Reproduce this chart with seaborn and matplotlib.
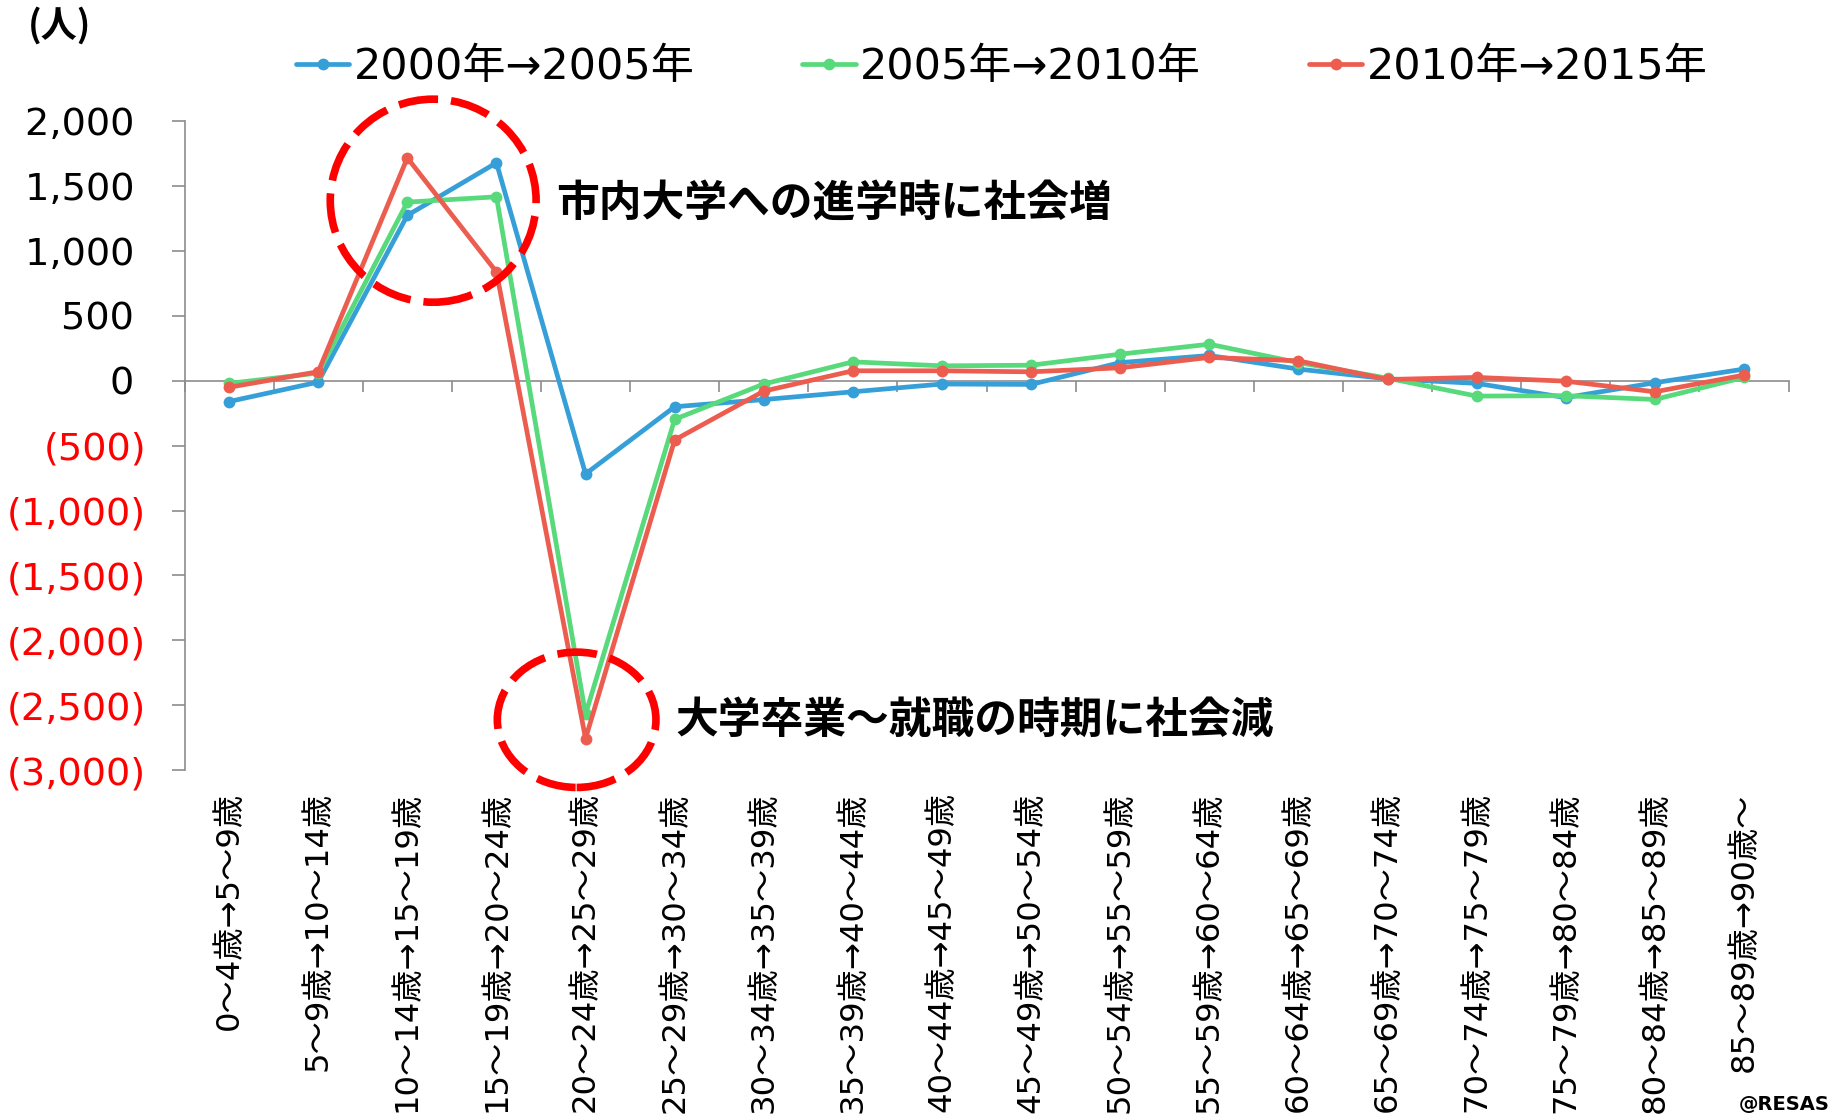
import numpy as np
import pandas as pd
import matplotlib
matplotlib.use("Agg")
import matplotlib.pyplot as plt
from matplotlib.patches import Ellipse
import seaborn as sns

categories = [
    "0～4歳→5～9歳", "5～9歳→10～14歳", "10～14歳→15～19歳", "15～19歳→20～24歳",
    "20～24歳→25～29歳", "25～29歳→30～34歳", "30～34歳→35～39歳", "35～39歳→40～44歳",
    "40～44歳→45～49歳", "45～49歳→50～54歳", "50～54歳→55～59歳", "55～59歳→60～64歳",
    "60～64歳→65～69歳", "65～69歳→70～74歳", "70～74歳→75～79歳", "75～79歳→80～84歳",
    "80～84歳→85～89歳", "85～89歳→90歳～",
]
series_names = ["2000年→2005年", "2005年→2010年", "2010年→2015年"]
v_2000_2005 = [-160, -10, 1275, 1680, -718, -200, -145, -85, -25, -28, 140, 195, 90, 15, -20, -130, -15, 90]
v_2005_2010 = [-20, 60, 1377, 1418, -2570, -297, -25, 146, 115, 120, 205, 282, 140, 20, -118, -115, -144, 26]
v_2010_2015 = [-50, 70, 1718, 839, -2758, -456, -80, 77, 77, 69, 100, 180, 154, 10, 26, -3, -85, 44]
y_ticks = list(range(-3000, 2001, 500))
annotations = ["市内大学への進学時に社会増", "大学卒業～就職の時期に社会減"]

colors = ["#369FD8", "#58D97B", "#EC5D4F"]
gray = "#8C8C8C"

rows = []
for name, vals in zip(series_names, [v_2000_2005, v_2005_2010, v_2010_2015]):
    for i, v in enumerate(vals):
        rows.append({"idx": i, "value": v, "period": name})
df = pd.DataFrame(rows)

sns.set_theme(style="white")
plt.rcParams["font.family"] = ["DejaVu Sans", "Noto Sans CJK JP"]
plt.rcParams["text.color"] = "black"
plt.rcParams["xtick.labelcolor"] = "black"
plt.rcParams["ytick.labelcolor"] = "black"
plt.rcParams["legend.labelcolor"] = "black"

fig = plt.figure(figsize=(18.31, 11.2), dpi=100)
ax = fig.add_axes([0.1008, 0.3125, 0.876, 0.5792])

sns.lineplot(data=df, x="idx", y="value", hue="period", hue_order=series_names,
             palette=colors, marker="o", markersize=8.5, linewidth=3.4,
             markeredgewidth=0, ax=ax, legend=True)

ax.set_xlim(-0.5, len(categories) - 0.5)
ax.set_ylim(-3000, 2000)
ax.set_xlabel("")
ax.set_ylabel("")

# y axis (Excel-style accounting format: positives keep room for ")")
ax.set_yticks(y_ticks)
def fmt(v):
    return f"({abs(v):,})" if v < 0 else f"{v:,} "
ax.set_yticklabels([fmt(v) for v in y_ticks], fontsize=27.5)
for lab, v in zip(ax.get_yticklabels(), y_ticks):
    lab.set_color("#FF0000" if v < 0 else "black")
ax.tick_params(axis="y", length=9.5, width=1.2, color=gray, direction="out", pad=18, left=True)

# x axis labels
ax.set_xticks(range(len(categories)))
ax.set_xticklabels(categories, rotation=90, fontsize=23.2,
                   fontfamily=["DejaVu Sans", "Noto Sans CJK JP"], color="black")
ax.tick_params(axis="x", length=0, pad=16, bottom=True)

for s in ["top", "right", "bottom"]:
    ax.spines[s].set_visible(False)
ax.spines["left"].set_color(gray)
ax.spines["left"].set_linewidth(1.2)

# zero line with category boundary ticks
zero_pos = (0 - (-3000)) / 5000
secax = ax.secondary_xaxis(zero_pos)
secax.set_xticks(np.arange(-0.5, len(categories), 1.0))
secax.tick_params(axis="x", direction="in", length=8, width=1.2, color=gray,
                  labeltop=False, labelbottom=False)
for s in secax.spines.values():
    s.set_color(gray)
    s.set_linewidth(1.2)

# dashed circles
e1 = Ellipse((2.29, 1388), width=2.31, height=1565, fill=False, edgecolor="#FF0000",
             linewidth=5.5, linestyle=(0, (5.2, 1.7)), zorder=5, clip_on=False)
e2 = Ellipse((3.90, -2613), width=1.78, height=1043, fill=False, edgecolor="#FF0000",
             linewidth=5.5, linestyle=(0, (5.2, 1.7)), zorder=5, clip_on=False)
ax.add_patch(e1)
ax.add_patch(e2)

ax.text(3.67, 1370, annotations[0], fontsize=30.8, fontweight="bold",
        fontfamily=["Noto Sans CJK JP"], ha="left", va="center", color="black")
ax.text(5.01, -2613, annotations[1], fontsize=30.8, fontweight="bold",
        fontfamily=["Noto Sans CJK JP"], ha="left", va="center", color="black")

# legend
handles, labels = ax.get_legend_handles_labels()
ax.get_legend().remove()
fig.legend(handles, labels, loc="center", bbox_to_anchor=(0.547, 0.940),
           ncol=3, frameon=False, fontsize=31, handlelength=1.25,
           handletextpad=0.1, columnspacing=2.5, borderaxespad=0, borderpad=0,
           labelcolor="black")

fig.text(0.015, 0.977, "(人)", fontsize=26, fontweight="bold",
         fontfamily=["Noto Sans CJK JP"], ha="left", va="center", color="black")
fig.text(0.999, 0.014, "@RESAS", fontsize=14, fontweight="bold",
         ha="right", va="center", color="black")

fig.savefig("out.png", dpi=100)
